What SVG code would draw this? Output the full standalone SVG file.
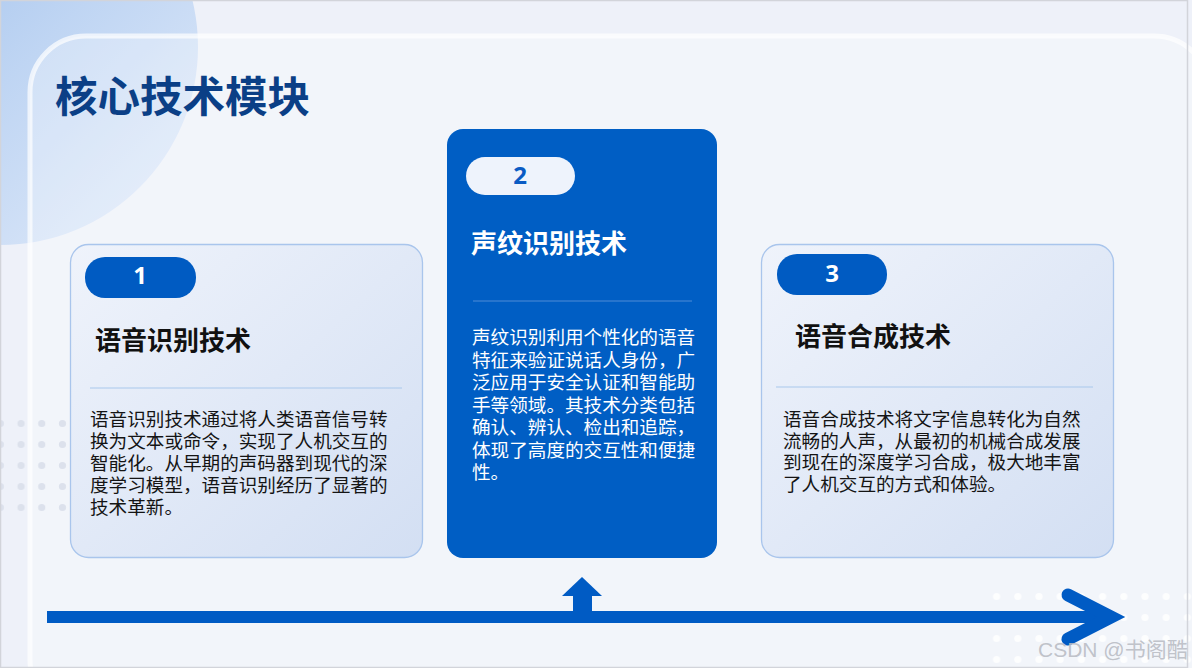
<svg xmlns="http://www.w3.org/2000/svg" width="1192" height="668" viewBox="0 0 1192 668">
<defs>
<linearGradient id="bgc" x1="0" y1="0" x2="1" y2="1">
<stop offset="0" stop-color="#8fb5e7"/>
<stop offset="0.55" stop-color="#bfd5f3"/>
<stop offset="1" stop-color="#e3ecfa"/>
</linearGradient>
<linearGradient id="cardg" x1="0" y1="0" x2="1" y2="1">
<stop offset="0" stop-color="#eff3fb"/>
<stop offset="1" stop-color="#d3dff3"/>
</linearGradient>
<pattern id="dotsg" x="-10" y="413" width="20.7" height="21" patternUnits="userSpaceOnUse">
<circle cx="10.35" cy="10.5" r="3.6" fill="#dce1ec"/>
</pattern>
<pattern id="dotsw" x="986" y="586" width="21.2" height="21" patternUnits="userSpaceOnUse">
<circle cx="10.6" cy="10.5" r="3.6" fill="#ffffff" fill-opacity="0.85"/>
</pattern>
</defs>
<style>
.cjk{font-family:"Noto Sans CJK SC","Noto Sans",sans-serif;}
.bt{font-family:"Liberation Sans","Noto Sans CJK SC",sans-serif;}
.title{font-size:42.5px;font-weight:700;fill:#0b3f86;}
.ctitle{font-size:26px;font-weight:700;fill:#111;}
.body{font-size:18.6px;fill:#141414;}
.num{font-family:"Open Sans","Liberation Sans",sans-serif;font-size:24px;font-weight:700;text-anchor:middle;}
.card{fill:url(#cardg);stroke:#a9c5ec;stroke-width:1.3;}
.badge{fill:#005bc2;}
.div{stroke:#a9c8ec;stroke-width:1;}
.conn{fill:#005bc4;stroke:none;}
</style>
<rect x="0" y="0" width="1192" height="668" fill="#eef1f9"/>
<circle cx="0" cy="47" r="198" fill="url(#bgc)"/>
<rect x="30" y="36" width="1180" height="680" rx="56" fill="#ffffff" fill-opacity="0.28" stroke="#ffffff" stroke-opacity="0.7" stroke-width="5"/>
<rect x="0" y="413" width="92" height="105" fill="url(#dotsg)"/>
<rect x="986" y="586" width="206" height="82" fill="url(#dotsw)"/>
<rect x="0.5" y="0.5" width="1187" height="667" fill="none" stroke="#d2d4da" stroke-width="1.5"/>
<text class="cjk title" x="55" y="112">核心技术模块</text>

<g id="connectors">
<rect class="conn" x="47" y="611" width="1060" height="12"/>
<polyline points="1068,595 1111,617 1068,639" fill="none" stroke="#005bc4" stroke-width="13" stroke-linecap="round" stroke-linejoin="miter"/>
<rect class="conn" x="573" y="595" width="19" height="18"/>
<polygon class="conn" points="562,596 602,596 582,577"/>
</g>

<g id="node1">
<rect class="card" x="70.5" y="244.5" width="352" height="313" rx="18"/>
<rect class="badge" x="85" y="257" width="111" height="41" rx="20"/>
<text class="num" x="140" y="284" fill="#ffffff">1</text>
<text class="cjk ctitle" x="95" y="350">语音识别技术</text>
<line class="div" x1="90" y1="388" x2="402" y2="388"/>
<text class="bt body"><tspan x="90" y="426">语音识别技术通过将人类语音信号转</tspan><tspan x="90" y="448">换为文本或命令，实现了人机交互的</tspan><tspan x="90" y="470">智能化。从早期的声码器到现代的深</tspan><tspan x="90" y="492">度学习模型，语音识别经历了显著的</tspan><tspan x="90" y="514">技术革新。</tspan></text>
</g>

<g id="node2">
<rect x="447" y="129" width="270" height="429" rx="16" fill="#005ec4"/>
<rect x="466" y="157" width="109" height="38" rx="19" fill="#eef3fc"/>
<text class="num" x="520" y="184" fill="#0a5bc4">2</text>
<text class="cjk ctitle" x="471" y="253" style="fill:#ffffff">声纹识别技术</text>
<line x1="473" y1="301" x2="692" y2="301" stroke="#4f8bd6" stroke-width="1"/>
<text class="bt body" style="fill:#ffffff"><tspan x="472" y="344">声纹识别利用个性化的语音</tspan><tspan x="472" y="366.5">特征来验证说话人身份，广</tspan><tspan x="472" y="389">泛应用于安全认证和智能助</tspan><tspan x="472" y="411.5">手等领域。其技术分类包括</tspan><tspan x="472" y="434">确认、辨认、检出和追踪，</tspan><tspan x="472" y="456.5">体现了高度的交互性和便捷</tspan><tspan x="472" y="479">性。</tspan></text>
</g>

<g id="node3">
<rect class="card" x="761.5" y="244.5" width="352" height="313" rx="18"/>
<rect class="badge" x="777" y="254" width="110" height="41" rx="20"/>
<text class="num" x="832" y="282" fill="#ffffff">3</text>
<text class="cjk ctitle" x="795" y="346">语音合成技术</text>
<line class="div" x1="776" y1="387" x2="1093" y2="387"/>
<text class="bt body"><tspan x="783" y="426">语音合成技术将文字信息转化为自然</tspan><tspan x="783" y="447.5">流畅的人声，从最初的机械合成发展</tspan><tspan x="783" y="469">到现在的深度学习合成，极大地丰富</tspan><tspan x="783" y="490.5">了人机交互的方式和体验。</tspan></text>
</g>

<text x="1038" y="657" font-family="Liberation Sans, Noto Sans CJK SC, sans-serif" font-size="21" fill="#b9bcc4" fill-opacity="0.9">CSDN @<tspan font-family="Noto Sans CJK SC, sans-serif">书阁酷</tspan></text>
</svg>
